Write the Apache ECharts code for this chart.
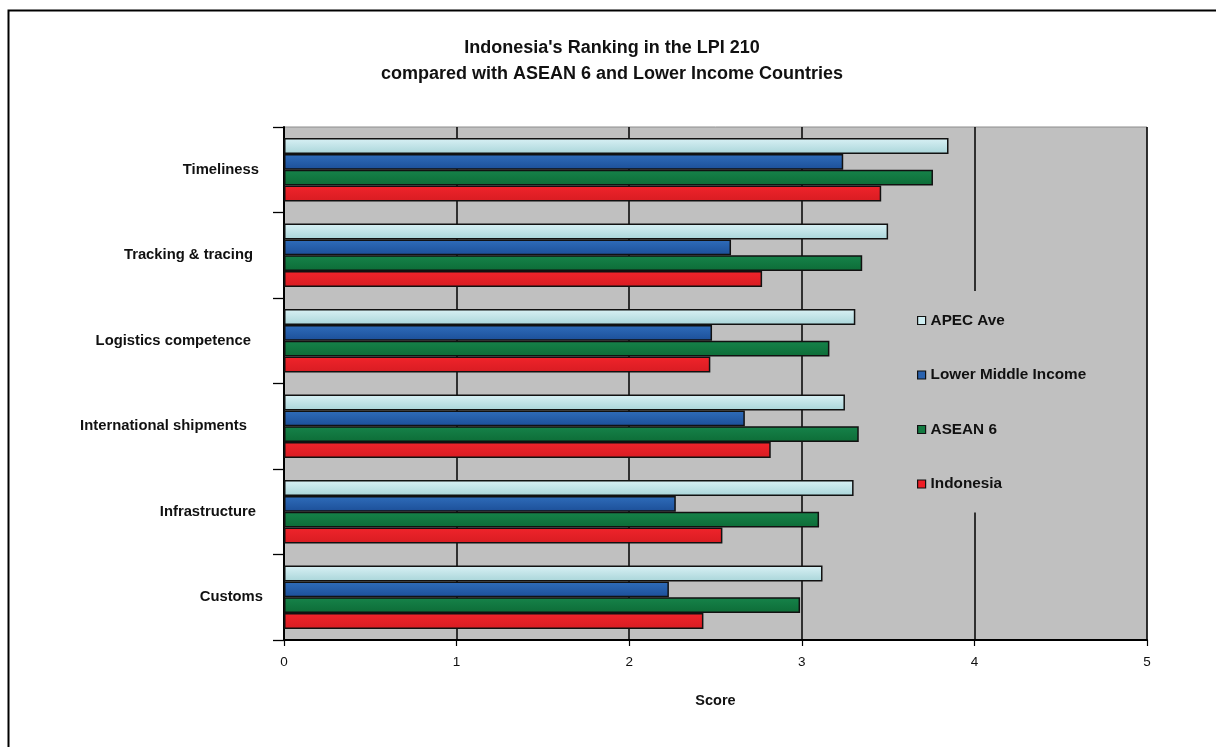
<!DOCTYPE html>
<html>
<head>
<meta charset="utf-8">
<script src="https://cdn.jsdelivr.net/npm/echarts@6/dist/echarts.min.js"></script>
<style>
html,body{margin:0;padding:0;background:#fff;}
#chart{width:1216px;height:747px;}
</style>
</head>
<body>
<div id="chart"></div>
<script>
// Categories (bottom to top as drawn by the category axis)
var categories = ['Customs', 'Infrastructure', 'International shipments', 'Logistics competence', 'Tracking & tracing', 'Timeliness'];
var apecAve = [3.12, 3.30, 3.25, 3.31, 3.50, 3.85];
var lowerMiddleIncome = [2.23, 2.27, 2.67, 2.48, 2.59, 3.24];
var asean6 = [2.99, 3.10, 3.33, 3.16, 3.35, 3.76];
var indonesia = [2.43, 2.54, 2.82, 2.47, 2.77, 3.46];
var xTicks = [0, 1, 2, 3, 4, 5];
var legendOrder = ['APEC Ave', 'Lower Middle Income', 'ASEAN 6', 'Indonesia'];

var labelPad = {'Customs': 0, 'Timeliness': 4, 'Infrastructure': 7, 'Tracking & tracing': 10, 'Logistics competence': 12, 'International shipments': 16};
var rich = {};
var padKeys = Object.keys(labelPad);
padKeys.forEach(function (k, i) {
  rich['p' + i] = {fontFamily: 'Liberation Sans, Arial, sans-serif', fontWeight: 'bold', fontSize: 14.8, color: '#111', padding: [0, labelPad[k], 0, 0]};
});

function grad(top, bottom) {
  return {type: 'linear', x: 0, y: 0, x2: 0, y2: 1, colorStops: [{offset: 0, color: top}, {offset: 1, color: bottom}]};
}
var styles = {
  'APEC Ave': {fill: grad('#d9f1f5', '#a9d5d9'), icon: '#cfeef2'},
  'Lower Middle Income': {fill: grad('#2f6dbb', '#1c4f98'), icon: '#2a62ae'},
  'ASEAN 6': {fill: grad('#16834a', '#0d6c37'), icon: '#137a41'},
  'Indonesia': {fill: grad('#f0242b', '#d81c22'), icon: '#ee1d25'}
};
var dataMap = {'APEC Ave': apecAve, 'Lower Middle Income': lowerMiddleIncome, 'ASEAN 6': asean6, 'Indonesia': indonesia};

var series = legendOrder.map(function (name) {
  return {
    name: name,
    type: 'bar',
    data: dataMap[name],
    barGap: '0%',
    barCategoryGap: '26%',
    itemStyle: {color: styles[name].fill, borderColor: '#111', borderWidth: 1.5},
    emphasis: {disabled: true}
  };
});

var chart = echarts.init(document.getElementById('chart'));
chart.setOption({
  animation: false,
  backgroundColor: '#fff',
  title: {
    text: "Indonesia's Ranking in the LPI 210\ncompared with ASEAN 6 and Lower Income Countries",
    left: 607,
    textAlign: 'center',
    top: 30,
    textStyle: {fontFamily: 'Liberation Sans, Arial, sans-serif', fontWeight: 'bold', fontSize: 18, color: '#111', lineHeight: 26}
  },
  graphic: [{
    type: 'rect', left: 6, top: 8, z: 100, silent: true,
    shape: {x: 0, y: 0, width: 1400, height: 1000},
    style: {fill: 'none', stroke: '#000', lineWidth: 2}
  }],
  legend: {
    orient: 'vertical',
    left: 905,
    top: 291,
    backgroundColor: '#c0c0c0',
    padding: [22, 50, 21, 12],
    itemGap: 39.5,
    itemWidth: 8,
    itemHeight: 8,
    icon: 'rect',
    selectedMode: false,
    data: legendOrder.map(function (n) {
      return {name: n, itemStyle: {color: styles[n].icon, borderColor: '#111', borderWidth: 1.2}};
    }),
    textStyle: {fontFamily: 'Liberation Sans, Arial, sans-serif', fontWeight: 'bold', fontSize: 15.3, color: '#111', lineHeight: 14}
  },
  grid: {
    left: 284, top: 127, width: 863, height: 513,
    show: true, backgroundColor: '#c0c0c0', borderColor: '#8c8c8c', borderWidth: 1,
    containLabel: false
  },
  xAxis: {
    type: 'value', min: 0, max: 5, interval: 1,
    name: 'Score', nameLocation: 'middle', nameGap: 53,
    nameTextStyle: {fontFamily: 'Liberation Sans, Arial, sans-serif', fontWeight: 'bold', fontSize: 14.5, color: '#111'},
    axisLine: {show: true, lineStyle: {color: '#000', width: 2}},
    axisTick: {show: true, length: 6, lineStyle: {color: '#000', width: 1.2}},
    axisLabel: {margin: 15, fontFamily: 'Liberation Sans, Arial, sans-serif', fontSize: 13.5, color: '#111',
      formatter: function (v) { return xTicks.indexOf(v) >= 0 ? String(v) : ''; }},
    splitLine: {show: true, lineStyle: {color: '#000', width: 1.5}}
  },
  yAxis: {
    type: 'category', data: categories,
    axisLine: {show: true, lineStyle: {color: '#000', width: 2}},
    axisTick: {show: true, length: 11, lineStyle: {color: '#000', width: 1.3}},
    axisLabel: {
      margin: 21,
      formatter: function (v) { return '{p' + padKeys.indexOf(v) + '|' + v + '}'; },
      rich: rich
    },
    splitLine: {show: false}
  },
  series: series
});
</script>
</body>
</html>
